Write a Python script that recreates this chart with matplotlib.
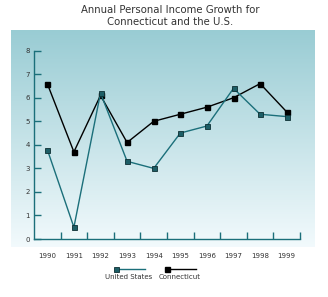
import numpy as np
import matplotlib.pyplot as plt
from matplotlib.lines import Line2D

# データ
years = ['1990', '1991', '1992', '1993', '1994', '1995', '1996', '1997', '1998', '1999']
us = [3.8, 0.5, 6.2, 3.3, 3.0, 4.5, 4.8, 6.4, 5.3, 5.2]
ct = [6.6, 3.7, 6.1, 4.1, 5.0, 5.3, 5.6, 6.0, 6.6, 5.4]
yticks = [0, 1, 2, 3, 4, 5, 6, 7, 8]

teal = '#1b6f7a'
txt = '#333333'

fig = plt.figure(figsize=(3.28, 2.97), dpi=100)

# 背景のグラデーション
bg = fig.add_axes([11/328, 1 - 247/297, 304/328, 217/297])
top = np.array([0.60, 0.80, 0.83])
bot = np.array([0.95, 0.98, 0.99])
t = np.linspace(0, 1, 256)[:, None]
grad = top * (1 - t) + bot * t
bg.imshow(grad[:, None, :], aspect='auto', extent=[0, 1, 0, 1])
bg.axis('off')

ax = fig.add_axes([34/328, 1 - 239/297, 266/328, 188.3/297])
ax.patch.set_alpha(0)
x = np.arange(len(years))
ax.plot(x, ct, color='black', lw=1.0, marker='s', ms=3.6,
        mfc='black', mec='black', zorder=3)
ax.plot(x, us, color=teal, lw=1.0, marker='s', ms=3.6,
        mfc='#1d5e66', mec='#0d2f33', mew=0.6, zorder=4)

ax.set_xlim(-0.5, len(years) - 0.5)
ax.set_ylim(0, 8)
for s in ['top', 'right']:
    ax.spines[s].set_visible(False)
for s in ['left', 'bottom']:
    ax.spines[s].set_color(teal)
    ax.spines[s].set_linewidth(1.0)

ax.set_yticks(yticks)
ax.set_yticklabels([str(v) for v in yticks])
ax.tick_params(axis='y', direction='in', length=5, color=teal, width=1.0,
               labelsize=5, labelcolor=txt, pad=3)
# x軸の目盛はカテゴリ境界に
ax.set_xticks(x + 0.5, minor=False)
ax.set_xticklabels([])
ax.tick_params(axis='x', direction='in', length=5, color=teal, width=1.0)
ax.set_xticks(x, minor=True)
ax.set_xticklabels(years, minor=True)
ax.tick_params(axis='x', which='minor', length=0, labelsize=5,
               labelcolor=txt, pad=10)

fig.text(170/328, 1 - 10/297, 'Annual Personal Income Growth for',
         ha='center', va='center', fontsize=7.3, color=txt)
fig.text(170/328, 1 - 22/297, 'Connecticut and the U.S.',
         ha='center', va='center', fontsize=7.3, color=txt)

# 凡例
ly = 1 - 269/297
fig.add_artist(Line2D([116/328, 145/328], [ly, ly], color=teal, lw=1.0))
fig.add_artist(Line2D([116/328], [ly], marker='s', ms=3.6, mfc='#1d5e66',
                      mec='#0d2f33', mew=0.6, ls='none'))
fig.add_artist(Line2D([167/328, 196/328], [ly, ly], color='black', lw=1.0))
fig.add_artist(Line2D([167/328], [ly], marker='s', ms=3.6, mfc='black',
                      mec='black', ls='none'))
fig.text(129/328, 1 - 277/297, 'United States', ha='center', va='center',
         fontsize=5, color=txt)
fig.text(180/328, 1 - 277/297, 'Connecticut', ha='center', va='center',
         fontsize=5, color=txt)

fig.savefig('out.png', dpi=100)
